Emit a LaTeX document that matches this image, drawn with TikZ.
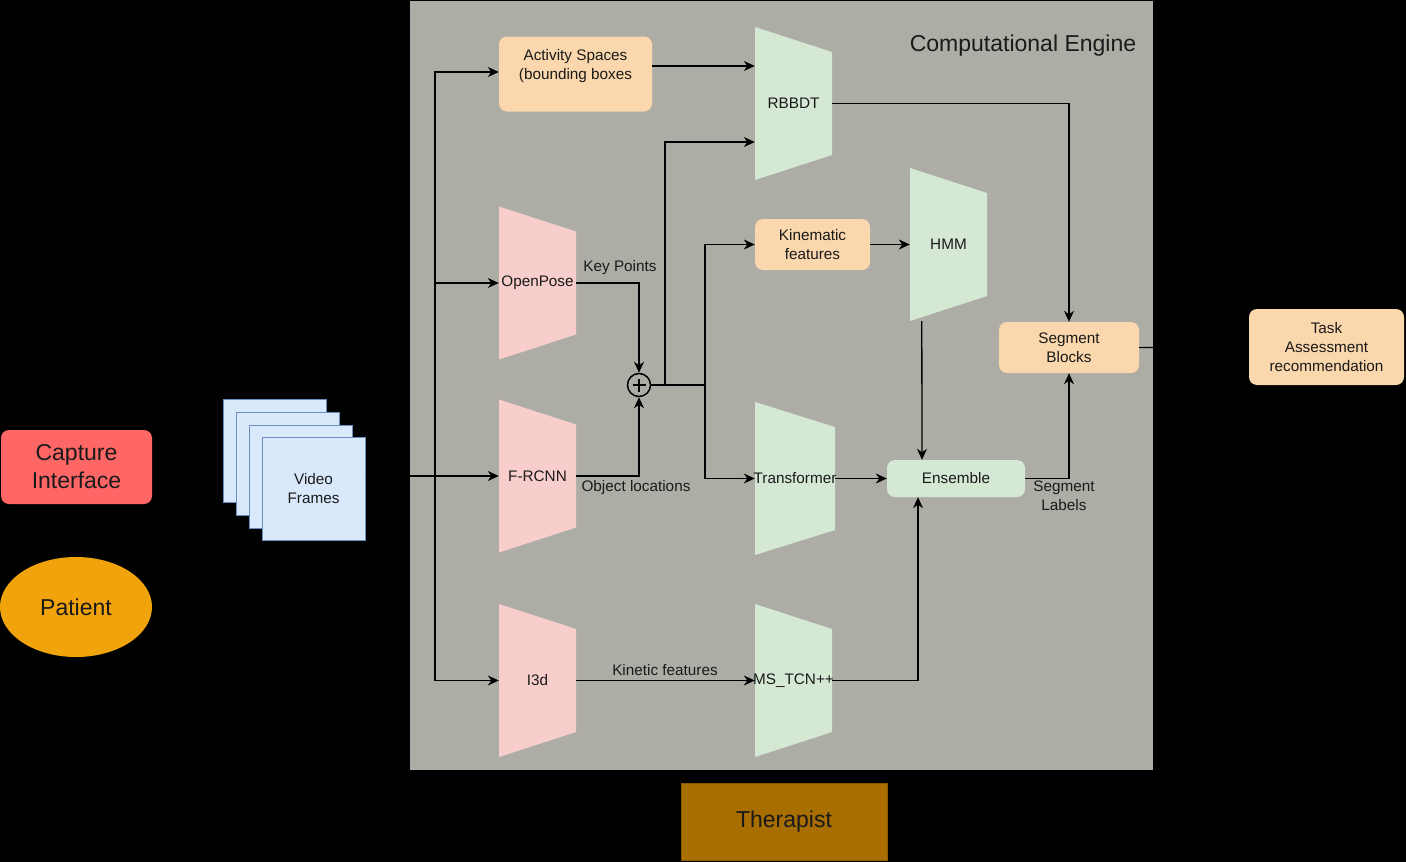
\documentclass[tikz,border=0pt]{standalone}
\usepackage{fontspec}
\setmainfont{Liberation Sans}
\usetikzlibrary{arrows.meta,shapes.geometric}
\definecolor{bgk}{HTML}{000000}
\definecolor{engine}{HTML}{ADADA6}
\definecolor{orangeL}{HTML}{FAD7AC}
\definecolor{pinkL}{HTML}{F8CECC}
\definecolor{greenL}{HTML}{D5E8D4}
\definecolor{blueL}{HTML}{DAE8FC}
\definecolor{blueD}{HTML}{6C8EBF}
\definecolor{capt}{HTML}{FF6666}
\definecolor{pat}{HTML}{F0A30A}
\definecolor{ther}{HTML}{A86F00}
\definecolor{therD}{HTML}{8A5A00}
\definecolor{txt}{HTML}{1A1A1A}
\definecolor{lnc}{HTML}{000000}
\newcommand\fsm{\fontsize{15.3}{19}\selectfont}
\newcommand\fbig{\fontsize{23}{28}\selectfont}
\newcommand\nowidth[1]{\makebox[0pt]{#1}}
\begin{document}
\begin{tikzpicture}[x=1pt,y=-1pt,
  lbl/.style={font=\fsm, text=txt, align=center, inner sep=0pt},
  ln/.style={draw=lnc, line width=1.3pt},
  arr/.style={draw=lnc, line width=1.3pt, -{Stealth[length=11pt,width=10pt,inset=3.5pt]}},
  rbox/.style={rounded corners=8pt, fill=#1, font=\fsm, text=txt, align=center, inner sep=0pt},
  trap/.style={minimum width=#1, minimum height=153pt, inner sep=0pt, font=\fsm, text=txt},
  trapfill/.style={path picture={\fill[#1] (path picture bounding box.north west) -- ([yshift=-25pt]path picture bounding box.north east) -- ([yshift=25pt]path picture bounding box.south east) -- (path picture bounding box.south west) -- cycle;}},
  frame/.style={draw=blueD, fill=blueL, line width=1pt, minimum width=103pt, minimum height=103pt, inner sep=0pt}
]
\useasboundingbox (0,0) rectangle (1406,862);
\fill[bgk] (0,0) rectangle (1406,862);
% engine panel
\fill[engine] (410,1) rectangle (1153,770);
\node[font=\fontsize{23}{27}\selectfont, text=txt] (title) at (1023,46) {Computational Engine};

% left side
\node[rbox=capt, minimum width=151pt, minimum height=74pt, font=\fbig] (capture) at (76.5,467) {Capture\\Interface};
\node[ellipse, fill=pat, minimum width=152pt, minimum height=100pt, font=\fbig, text=txt, inner sep=0pt] (patient) at (76,607) {Patient};
\node[frame] (vf1) at (274.5,450.5) {};
\node[frame] (vf2) at (287.5,463.5) {};
\node[frame] (vf3) at (300.5,476.5) {};
\node[frame, font=\fsm, text=txt, align=center] (vf4) at (313.5,488.5) {Video\\Frames};

% therapist
\node[fill=ther, draw=therD, line width=1pt, minimum width=206pt, minimum height=77pt, font=\fbig, text=txt] (therapist) at (784,821.5) {Therapist};

% boxes
\node[rbox=orangeL, minimum width=153pt, minimum height=75pt] (act) at (575.5,74) {Activity Spaces\\(bounding boxes\\~};
\node[rbox=orangeL, minimum width=115pt, minimum height=51pt] (kin) at (812.5,244.5) {Kinematic\\features};
\node[rbox=orangeL, minimum width=140pt, minimum height=51pt] (seg) at (1069,347.5) {Segment\\Blocks};
\node[rbox=greenL, minimum width=138pt, minimum height=37pt] (ens) at (956,478.5) {Ensemble};
\node[rbox=orangeL, minimum width=155pt, minimum height=76pt] (task) at (1326.5,347) {Task\\Assessment\\recommendation};

% trapezoids
\node[trap=77pt, trapfill=pinkL] (openpose) at (537.5,283) {\nowidth{OpenPose}};
\node[trap=77pt, trapfill=pinkL] (frcnn) at (537.5,476) {F-RCNN};
\node[trap=77pt, trapfill=pinkL] (i3d) at (537.5,680.5) {I3d};
\node[trap=77pt, trapfill=greenL] (rbbdt) at (793.5,103.5) {RBBDT};
\node[trap=77pt, trapfill=greenL] (hmm) at (948.5,244.5) {HMM};
\node[trap=80pt, trapfill=greenL] (trans) at (795,478.5) {\nowidth{Transformer}};
\node[trap=77pt, trapfill=greenL] (mstcn) at (793.5,680.5) {\nowidth{MS\_TCN++}};

% combiner
\node[circle, draw=lnc, line width=1.5pt, minimum size=23pt, inner sep=0pt,
  path picture={\draw[lnc, line width=1.4pt] ([xshift=-6.5pt]path picture bounding box.center) -- ([xshift=6.5pt]path picture bounding box.center) ([yshift=-6.5pt]path picture bounding box.center) -- ([yshift=6.5pt]path picture bounding box.center);}] (plus) at (639,385) {};

% input bus
\coordinate (bus) at (435,476);
\coordinate (j1) at (665,385);
\coordinate (j2) at (705,385);
\draw[arr] (vf4.east |- frcnn.west) -- (frcnn.west);
\draw[arr] (bus) |- (act.west |- 0,72);
\draw[arr] (bus) |- (openpose.west);
\draw[arr] (bus) |- (i3d.west);

% feature paths
\draw[arr] (act.east |- 0,66) -- (rbbdt.west |- 0,66);
\draw[arr] (openpose.east) -| (plus.north);
\draw[arr] (frcnn.east) -| (plus.south);
\draw[ln] (plus.east) -- (j2);
\draw[arr] (j1) |- ([yshift=-38.5pt]rbbdt.west);
\draw[arr] (j2) |- (kin.west);
\draw[arr] (j2) |- (trans.west);
\draw[arr] (kin.east) -- (hmm.west);
\draw[arr] ([xshift=12pt]hmm.south west) -- ([xshift=-34pt]ens.north);
\draw[arr] (trans.east) -- (ens.west);
\draw[arr] (i3d.east) -- (mstcn.west);
\draw[arr] (mstcn.east) -| ([xshift=-38pt]ens.south);
\draw[arr] (ens.east) -| (seg.south);
\draw[arr] (rbbdt.east) -| (seg.north);
\draw[arr] (seg.east) -- (task.west);

% labels
\node[lbl] (kp) at (620,268) {Key Points};
\node[lbl] (ol) at (636,488) {Object locations};
\node[lbl] (kf) at (665,670) {Kinetic features};
\node[lbl] (sl) at (1064,496) {Segment\\Labels};
\end{tikzpicture}
\end{document}
